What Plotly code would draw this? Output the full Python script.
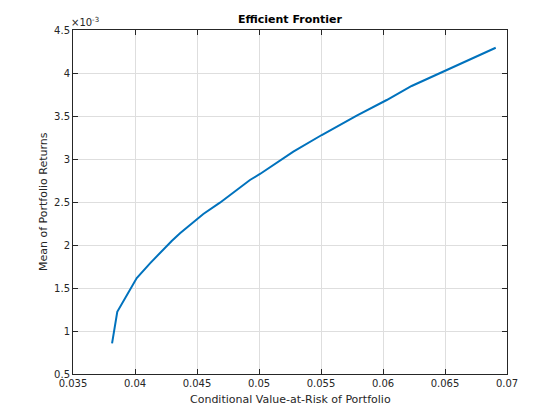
import plotly.graph_objects as go

# Conditional Value-at-Risk (x) and mean return (y) along the efficient frontier
cvar = [0.03815, 0.03857, 0.04014, 0.04121, 0.04296, 0.04363, 0.04551, 0.04685, 0.04927,
        0.05008, 0.05277, 0.05506, 0.05788, 0.06030, 0.06231, 0.06500, 0.06909]
mean_ret = [0.857e-3, 1.224e-3, 1.616e-3, 1.787e-3, 2.047e-3, 2.136e-3, 2.360e-3, 2.492e-3, 2.756e-3,
            2.826e-3, 3.085e-3, 3.279e-3, 3.505e-3, 3.686e-3, 3.849e-3, 4.025e-3, 4.294e-3]

x_ticks = [0.035, 0.04, 0.045, 0.05, 0.055, 0.06, 0.065, 0.07]
x_ticklabels = ["0.035", "0.04", "0.045", "0.05", "0.055", "0.06", "0.065", "0.07"]
y_ticks = [0.5e-3, 1e-3, 1.5e-3, 2e-3, 2.5e-3, 3e-3, 3.5e-3, 4e-3, 4.5e-3]
y_ticklabels = ["0.5", "1", "1.5", "2", "2.5", "3", "3.5", "4", "4.5"]

W, H = 560, 420
L, R, T, B = 73, 53, 30, 46
axcol = "#262626"
font = "DejaVu Sans"

fig = go.Figure()
fig.add_trace(go.Scatter(x=cvar, y=mean_ret, mode="lines",
                         line=dict(color="#0072BD", width=2), showlegend=False))

axis_common = dict(showgrid=True, gridcolor="#dedede", gridwidth=1,
                   showline=True, linecolor=axcol, linewidth=1, mirror="allticks",
                   ticks="inside", ticklen=5, tickcolor=axcol, tickwidth=1,
                   zeroline=False, tickfont=dict(family=font, size=10, color=axcol))

fig.update_xaxes(range=[0.035, 0.07], tickvals=x_ticks, ticktext=x_ticklabels, **axis_common)
fig.update_yaxes(range=[0.5e-3, 4.5e-3], tickvals=y_ticks, ticktext=y_ticklabels, **axis_common)

pw = W - L - R
ph = H - T - B
def px_x(x):
    return (x - L) / pw
def px_y(y):
    return (H - B - y) / ph

fig.update_layout(
    width=W, height=H, autosize=False,
    margin=dict(l=L, r=R, t=T, b=B),
    plot_bgcolor="white", paper_bgcolor="white",
    annotations=[
        dict(text="<b>Efficient Frontier</b>", x=0.5, y=px_y(20), xref="paper", yref="paper",
             showarrow=False, xanchor="center", yanchor="middle",
             font=dict(family=font, size=11, color="black")),
        dict(text="Conditional Value-at-Risk of Portfolio", x=0.5, y=px_y(400),
             xref="paper", yref="paper", showarrow=False, xanchor="center", yanchor="middle",
             font=dict(family=font, size=11, color=axcol)),
        dict(text="Mean of Portfolio Returns", x=px_x(43), y=0.5, textangle=-90,
             xref="paper", yref="paper", showarrow=False, xanchor="center", yanchor="middle",
             font=dict(family=font, size=11, color=axcol)),
        dict(text="×10<sup>-3</sup>", x=px_x(69), y=px_y(30), xref="paper", yref="paper",
             showarrow=False, xanchor="left", yanchor="bottom",
             font=dict(family=font, size=10, color=axcol)),
    ],
)

fig.write_html("out.html", config={"displayModeBar": False},
               post_script="document.body.style.margin='0';")
